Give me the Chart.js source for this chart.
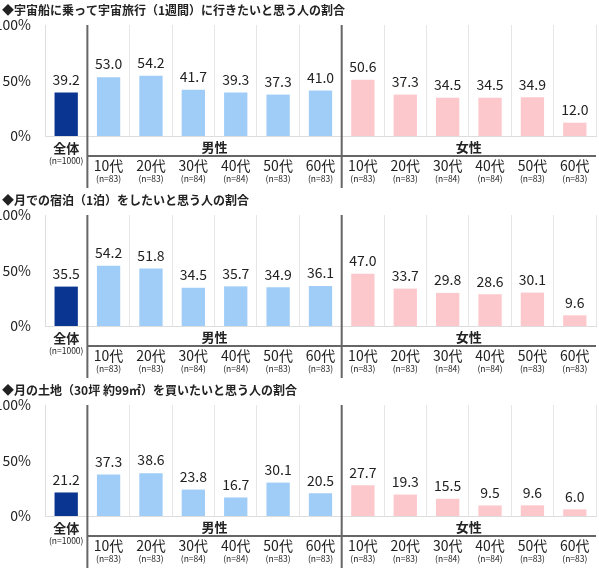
<!DOCTYPE html>
<html><head><meta charset="utf-8">
<script src="https://cdn.jsdelivr.net/npm/chart.js@4"></script>
<style>body{margin:0;background:#fff}.p{position:absolute;left:0;width:599px;height:190px}</style>
</head><body>
<div class="p" style="top:0"><canvas id="c0"></canvas></div>
<div class="p" style="top:190px"><canvas id="c1"></canvas></div>
<div class="p" style="top:380px"><canvas id="c2"></canvas></div>
<script>
const categories = ['全体','10代','20代','30代','40代','50代','60代','10代','20代','30代','40代','50代','60代'];
const sampleSizes = ['(n=1000)','(n=83)','(n=83)','(n=84)','(n=84)','(n=83)','(n=83)','(n=83)','(n=83)','(n=84)','(n=84)','(n=83)','(n=83)'];
const groups = ['男性','女性'];
const titles = ['◆宇宙船に乗って宇宙旅行（1週間）に行きたいと思う人の割合','◆月での宿泊（1泊）をしたいと思う人の割合','◆月の土地（30坪 約99㎡）を買いたいと思う人の割合'];
const travel = [39.2,53.0,54.2,41.7,39.3,37.3,41.0,50.6,37.3,34.5,34.5,34.9,12.0];
const stay = [35.5,54.2,51.8,34.5,35.7,34.9,36.1,47.0,33.7,29.8,28.6,30.1,9.6];
const land = [21.2,37.3,38.6,23.8,16.7,30.1,20.5,27.7,19.3,15.5,9.5,9.6,6.0];
const yTicks = [0,50,100];
const colors = categories.map((c,i)=> i===0?'#0a3591':(i<=6?'#9fcdf7':'#fcc8cc'));
const F = '"Noto Sans CJK JP","Noto Sans",sans-serif';

const deco = {
  id:'deco',
  afterDatasetsDraw(chart, args, opts){
    const ctx = chart.ctx, x = chart.scales.x, a = chart.chartArea;
    const meta = chart.getDatasetMeta(0);
    ctx.save();
    ctx.fillStyle='#222'; ctx.textAlign='left'; ctx.textBaseline='middle';
    ctx.font='bold 12px '+F;
    ctx.fillText(opts.title, 2, 10);
    ctx.textAlign='center';
    ctx.font='14px '+F; ctx.fillStyle='#222';
    meta.data.forEach((b,i)=>{ ctx.fillText(chart.data.datasets[0].data[i].toFixed(1), b.x, b.y-13); });
    const w = x.getPixelForValue(1)-x.getPixelForValue(0);
    const s1 = x.getPixelForValue(0)+w/2, s2 = x.getPixelForValue(6)+w/2;
    const yb = a.bottom;
    ctx.font='bold 13px '+F;
    ctx.fillText(groups[0], (s1+s2)/2, yb+11);
    ctx.fillText(groups[1], (s2+a.right)/2, yb+11);
    ctx.strokeStyle='#666'; ctx.lineWidth=2;
    ctx.beginPath(); ctx.moveTo(s1,yb+20); ctx.lineTo(a.right,yb+20); ctx.stroke();
    ctx.beginPath(); ctx.moveTo(s1,a.top); ctx.lineTo(s1,yb+52); ctx.moveTo(s2,a.top); ctx.lineTo(s2,yb+52); ctx.stroke();
    categories.forEach((c,i)=>{
      const px = x.getPixelForValue(i);
      ctx.font=(i===0?'bold 13px ':'14px ')+F;
      ctx.fillText(c, px, i===0? yb+12 : yb+30);
      ctx.font='8.5px '+F;
      ctx.fillText(sampleSizes[i], px, i===0? yb+25 : yb+43);
    });
    ctx.restore();
  }
};

function make(id, data, title){
  new Chart(document.getElementById(id), {
    type:'bar',
    data:{labels:categories, datasets:[{data:data, backgroundColor:colors, barPercentage:0.55, categoryPercentage:1}]},
    plugins:[deco],
    options:{
      responsive:false, animation:false, devicePixelRatio:1,
      layout:{padding:{top:25,right:3,bottom:54,left:0}},
      plugins:{legend:{display:false}, tooltip:{enabled:false}, deco:{title:title}},
      scales:{
        x:{grid:{offset:true,color:'#e6e6e6',drawTicks:false}, border:{color:'#ddd'}, ticks:{display:false}},
        y:{min:0,max:100, afterBuildTicks(s){s.ticks=yTicks.map(v=>({value:v}));},
           afterFit(s){s.width=45;},
           grid:{display:false}, border:{color:'#ddd'},
           ticks:{callback:v=>v+'%', color:'#222', font:{family:F,size:14}, padding:6}}
      }
    }
  });
}
['c0','c1','c2'].forEach((id,i)=>{const c=document.getElementById(id); c.width=599; c.height=190;});
make('c0', travel, titles[0]);
make('c1', stay, titles[1]);
make('c2', land, titles[2]);
</script>
</body></html>
